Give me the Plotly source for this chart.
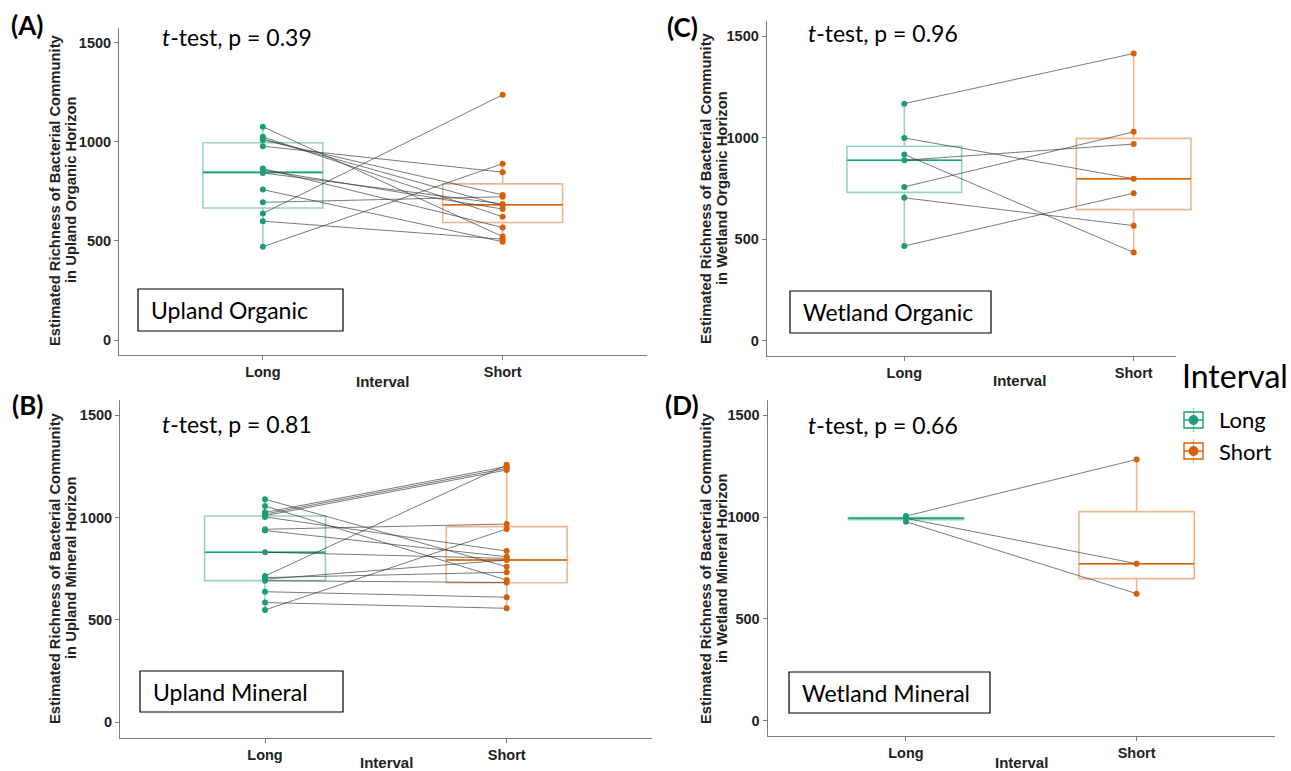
import plotly.graph_objects as go

W, H = 1291, 771

# ---------------- data ----------------
categories = ["Long", "Short"]
cat_pos = [1, 2]

A_long = [1076, 1025, 1015, 1009, 978, 865, 858, 843, 759, 695, 639, 600, 471]
A_short = [522, 622, 678, 732, 847, 568, 661, 687, 496, 723, 1237, 509, 890]
A_box_long = [471, 666, 846, 995, 1076]     # lowerfence, q1, median, q3, upperfence
A_box_short = [496, 593, 683, 788, 890]

B_long = [1090, 1057, 1026, 1018, 1010, 1003, 943, 937, 831, 715, 707, 699, 692, 638, 585, 549]
B_short = [760, 695, 1250, 1241, 1233, 837, 969, 809, 801, 1258, 733, 793, 683, 611, 557, 945]
B_box_long = [549, 692, 831, 1008, 1090]
B_box_short = [557, 682, 793, 956, 1258]

C_long = [1168, 999, 918, 889, 758, 704, 467]
C_short = [1415, 798, 435, 969, 1029, 567, 727]
C_box_long = [467, 731, 889, 958, 1168]
C_box_short = [435, 646, 798, 997, 1415]

D_long = [1005, 994, 977]
D_short = [1283, 771, 624]
D_box_long = [977, 987, 994, 998, 1005]
D_box_short = [624, 698, 771, 1027, 1283]

y_ticks = [0, 500, 1000, 1500]
p_values = ["0.39", "0.81", "0.96", "0.66"]
panel_letters = ["(A)", "(B)", "(C)", "(D)"]
panel_names = ["Upland Organic", "Upland Mineral", "Wetland Organic", "Wetland Mineral"]
horizon_names = ["Upland Organic Horizon", "Upland Mineral Horizon",
                 "Wetland Organic Horizon", "Wetland Mineral Horizon"]

# ---------------- styling ----------------
COL_LONG = "#1B9E77"
COL_SHORT = "#D95F02"
BOX_LONG = "rgba(27,158,119,0.45)"
BOX_SHORT = "rgba(217,95,2,0.45)"
AXCOL = "#7a7a7a"
ARIAL = "Liberation Sans, Arial, sans-serif"
CAL = "Lato, Open Sans, sans-serif"

# panel pixel frames: left, right, top, bottom
frames = [
    (119, 646.5, 27.8, 355),
    (120, 651.7, 400, 737.6),
    (766.7, 1271.3, 21, 356),
    (767.6, 1275, 400, 736),
]


def px(x):
    return x / W


def py(y):
    return 1 - y / H


panels = [
    (A_long, A_short, A_box_long, A_box_short),
    (B_long, B_short, B_box_long, B_box_short),
    (C_long, C_short, C_box_long, C_box_short),
    (D_long, D_short, D_box_long, D_box_short),
]

fig = go.Figure()
box_width = 0.5

for i, (lv, sv, bl, bs) in enumerate(panels):
    xa = "x" if i == 0 else f"x{i+1}"
    ya = "y" if i == 0 else f"y{i+1}"
    for pos, stats, lc in ((cat_pos[0], bl, BOX_LONG), (cat_pos[1], bs, BOX_SHORT)):
        fig.add_trace(go.Box(
            x=[pos], lowerfence=[stats[0]], q1=[stats[1]], median=[stats[2]],
            q3=[stats[3]], upperfence=[stats[4]], width=box_width,
            whiskerwidth=0, boxpoints=False, fillcolor="rgba(0,0,0,0)",
            line=dict(color=lc, width=1.6), showlegend=False,
            hoverinfo="skip", xaxis=xa, yaxis=ya))
    # darker median lines
    for pos, stats, mc in ((cat_pos[0], bl, COL_LONG), (cat_pos[1], bs, COL_SHORT)):
        fig.add_trace(go.Scatter(
            x=[pos - box_width / 2, pos + box_width / 2], y=[stats[2], stats[2]],
            mode="lines", line=dict(color=mc, width=1.6), showlegend=False,
            hoverinfo="skip", xaxis=xa, yaxis=ya))
    # paired lines
    lx, ly = [], []
    for a, b in zip(lv, sv):
        lx += [cat_pos[0], cat_pos[1], None]
        ly += [a, b, None]
    fig.add_trace(go.Scatter(x=lx, y=ly, mode="lines",
                             line=dict(color="rgba(50,50,50,0.65)", width=1),
                             showlegend=False, hoverinfo="skip", xaxis=xa, yaxis=ya))
    # points
    fig.add_trace(go.Scatter(x=[cat_pos[0]] * len(lv), y=lv, mode="markers",
                             marker=dict(color=COL_LONG, size=6), showlegend=False,
                             xaxis=xa, yaxis=ya))
    fig.add_trace(go.Scatter(x=[cat_pos[1]] * len(sv), y=sv, mode="markers",
                             marker=dict(color=COL_SHORT, size=6), showlegend=False,
                             xaxis=xa, yaxis=ya))

layout = dict(width=W, height=H, autosize=False,
              margin=dict(l=0, r=0, t=0, b=0),
              paper_bgcolor="white", plot_bgcolor="white", showlegend=False)

annotations = []
shapes = []


def ann(x, y, text, font, xanchor="center", yanchor="middle", **kw):
    d = dict(x=px(x), y=py(y), xref="paper", yref="paper", showarrow=False,
             text=text, font=font, xanchor=xanchor, yanchor=yanchor)
    d.update(kw)
    annotations.append(d)


for i, (l, r, t, b) in enumerate(frames):
    xk = "xaxis" if i == 0 else f"xaxis{i+1}"
    yk = "yaxis" if i == 0 else f"yaxis{i+1}"
    layout[xk] = dict(domain=[px(l), px(r)], range=[0.4, 2.6], tickvals=cat_pos,
                      ticktext=[f"<b>{c}</b>" for c in categories],
                      showline=True, linecolor=AXCOL, linewidth=1,
                      ticks="outside", ticklen=4, tickcolor=AXCOL,
                      showgrid=False, zeroline=False,
                      tickfont=dict(family=ARIAL, size=14.5, color="#222"),
                      anchor="y" if i == 0 else f"y{i+1}", fixedrange=True)
    layout[yk] = dict(domain=[py(b), py(t)], range=[-75, 1575], tickvals=y_ticks,
                      ticktext=[f"<b>{v}</b>" for v in y_ticks],
                      showline=True, linecolor=AXCOL, linewidth=1,
                      ticks="outside", ticklen=4, tickcolor=AXCOL,
                      showgrid=False, zeroline=False,
                      tickfont=dict(family=ARIAL, size=14.5, color="#222"),
                      anchor="x" if i == 0 else f"x{i+1}", fixedrange=True)

# y-axis titles (two rotated lines each)
ytitle_pos = [(55, 71, 190), (55, 71, 568), (706, 722, 188), (706, 722, 568)]
TFONT = dict(family=ARIAL, size=14.8, color="#222")
for i, (x1, x2, y) in enumerate(ytitle_pos):
    ann(x1, y, "<b>Estimated Richness of Bacterial Community</b>", TFONT, textangle=-90)
    ann(x2, y, f"<b>in {horizon_names[i]}</b>", TFONT, textangle=-90)

# x-axis titles
xtitle_pos = [(382, 381), (386, 762), (1019, 380), (1021, 762)]
for x, y in xtitle_pos:
    ann(x, y, "<b>Interval</b>", dict(family=ARIAL, size=15, color="#222"))

# panel letters
letter_pos = [(27, 25), (27, 405), (682, 27), (682, 405)]
for i, (x, y) in enumerate(letter_pos):
    ann(x, y, f"<b>{panel_letters[i]}</b>", dict(family=CAL, size=26, color="black"))

# t-test text
ttest_pos = [(160, 37), (160, 424), (806, 33), (806, 425)]
for i, (x, y) in enumerate(ttest_pos):
    ann(x, y, f"<i>t</i>-test, p = {p_values[i]}",
        dict(family=CAL, size=23, color="black"), xanchor="left")

# labelled boxes
label_boxes = [(138, 343, 289, 331), (140, 343, 671, 712),
               (790, 991, 291, 333), (789, 990, 672, 713)]
for i, (x0, x1, y0, y1) in enumerate(label_boxes):
    shapes.append(dict(type="rect", xref="paper", yref="paper",
                       x0=px(x0), x1=px(x1), y0=py(y1), y1=py(y0),
                       line=dict(color="black", width=1.2), fillcolor="white",
                       layer="above"))
    ann(x0 + 11, (y0 + y1) / 2, panel_names[i],
        dict(family=CAL, size=23, color="black"), xanchor="left")

# white patch where the legend overlaps panel C's axis end
shapes.append(dict(type="rect", xref="paper", yref="paper",
                   x0=px(1176), x1=px(1291), y0=py(364), y1=py(350),
                   line=dict(width=0), fillcolor="white", layer="above"))

# manual legend
ann(1180, 375, "Interval", dict(family=CAL, size=32, color="black"), xanchor="left")
leg_items = [("Long", COL_LONG, BOX_LONG, 420), ("Short", COL_SHORT, BOX_SHORT, 451)]
for name, col, lcol, yc in leg_items:
    shapes.append(dict(type="rect", xref="paper", yref="paper",
                       x0=px(1184), x1=px(1203), y0=py(yc + 8), y1=py(yc - 8),
                       line=dict(color=col, width=1.4), fillcolor="white"))
    shapes.append(dict(type="line", xref="paper", yref="paper",
                       x0=px(1184), x1=px(1203), y0=py(yc), y1=py(yc),
                       line=dict(color=col, width=1.4)))
    shapes.append(dict(type="line", xref="paper", yref="paper",
                       x0=px(1193.5), x1=px(1193.5), y0=py(yc - 12), y1=py(yc + 12),
                       line=dict(color=lcol, width=1.4)))
    shapes.append(dict(type="circle", xref="paper", yref="paper",
                       x0=px(1189), x1=px(1198), y0=py(yc + 4.5), y1=py(yc - 4.5),
                       line=dict(color=col, width=1), fillcolor=col))
    ann(1217, yc, name, dict(family=CAL, size=22, color="black"), xanchor="left")

layout["annotations"] = annotations
layout["shapes"] = shapes
fig.update_layout(**layout)

fig.write_html("out.html")
